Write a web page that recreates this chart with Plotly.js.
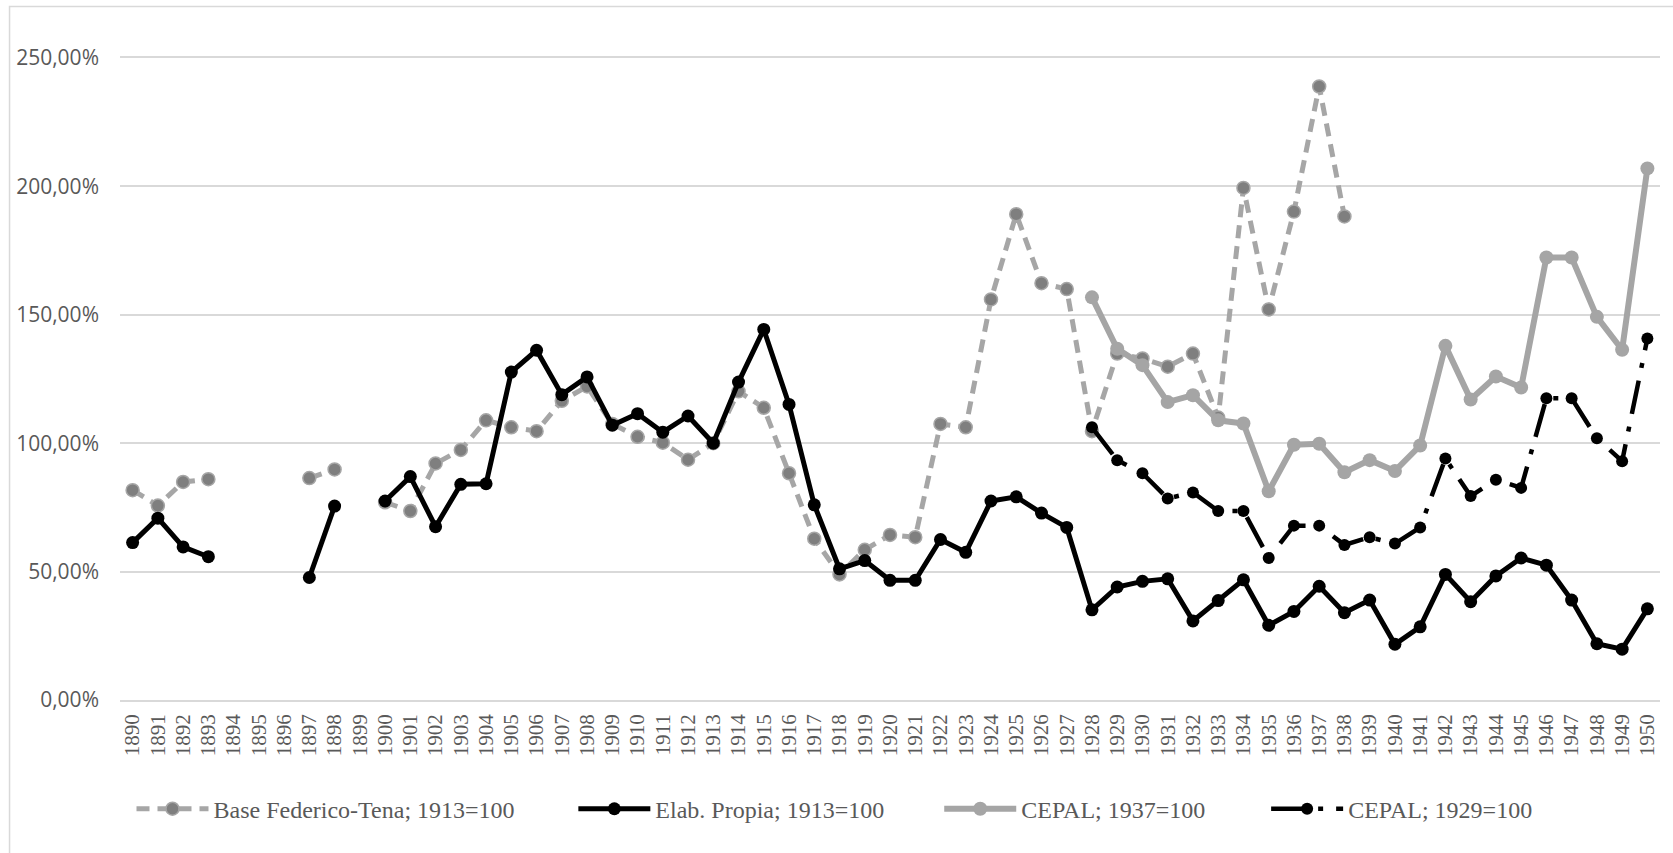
<!DOCTYPE html>
<html>
<head>
<meta charset="utf-8">
<script src="https://cdn.plot.ly/plotly-3.0.1.min.js"></script>
<style>
html,body{margin:0;padding:0;background:#fff;}
#chart{width:1673px;height:853px;}
</style>
</head>
<body>
<div id="chart"></div>
<script>
// ---- Data ----
var years = [];
for (var yr = 1890; yr <= 1950; yr++) years.push(yr);
var cepalYears = years.slice(38); // 1928..1950

var federicoTena = [81.7, 75.7, 84.9, 86.0, null, null, null, 86.4, 89.8, null,
  77.0, 73.6, 92.1, 97.4, 108.9, 106.2, 104.7, 116.5, 122.1, 107.5,
  102.5, 100.2, 93.6, 100.0, 120.2, 113.8, 88.3, 62.8, 48.9, 58.5,
  64.3, 63.4, 107.5, 106.2, 156.0, 189.2, 162.3, 160.0, 104.7, 134.9,
  133.0, 129.8, 134.9, 110.0, 199.4, 152.1, 190.2, 238.9, 188.3, null,
  null, null, null, null, null, null, null, null, null, null, null];

var elabPropia = [61.3, 70.8, 59.6, 55.8, null, null, null, 47.7, 75.5, null,
  77.5, 87.0, 67.5, 84.0, 84.2, 127.7, 136.2, 118.9, 125.8, 107.0,
  111.5, 104.3, 110.6, 100.0, 123.8, 144.3, 115.1, 76.0, 51.1, 54.3,
  46.6, 46.6, 62.5, 57.5, 77.5, 79.1, 72.8, 67.2, 35.1, 44.0,
  46.2, 47.2, 30.8, 38.7, 46.8, 29.1, 34.5, 44.3, 34.0, 38.9,
  21.7, 28.5, 48.9, 38.3, 48.3, 55.3, 52.5, 38.9, 21.9, 19.8, 35.5];

var cepal1937 = [156.8, 136.8, 130.4, 116.0, 118.7, 108.9, 107.7, 81.3, 99.4, 99.8,
  88.7, 93.4, 89.2, 99.1, 137.9, 117.0, 126.0, 121.7, 172.3, 172.3, 149.2, 136.4, 207.0];

var cepal1929 = [106.2, 93.4, 88.3, 78.5, 80.8, 73.6, 73.6, 55.3, 67.9, 67.9,
  60.4, 63.4, 60.9, 67.2, 94.0, 79.4, 85.8, 82.6, 117.5, 117.5, 101.9, 93.0, 140.8];

var seriesNames = ["Base Federico-Tena; 1913=100", "Elab. Propia; 1913=100",
  "CEPAL; 1937=100", "CEPAL; 1929=100"];

var yTickVals = [0, 50, 100, 150, 200, 250];
var yTickText = ["0,00%", "50,00%", "100,00%", "150,00%", "200,00%", "250,00%"];

// ---- Traces ----
var traces = [
  {
    x: years, y: federicoTena, name: seriesNames[0], type: "scatter", mode: "lines+markers",
    connectgaps: false, cliponaxis: false, legend: "legend",
    line: {color: "#a6a6a6", width: 5, dash: "13px,8px"},
    marker: {symbol: "circle", size: 13, color: "#7f7f7f", line: {color: "#a6a6a6", width: 1.5}}
  },
  {
    x: years, y: elabPropia, name: seriesNames[1], type: "scatter", mode: "lines+markers",
    connectgaps: false, cliponaxis: false, legend: "legend2",
    line: {color: "#000000", width: 5},
    marker: {symbol: "circle", size: 13, color: "#000000"}
  },
  {
    x: cepalYears, y: cepal1937, name: seriesNames[2], type: "scatter", mode: "lines+markers",
    connectgaps: false, cliponaxis: false, legend: "legend3",
    line: {color: "#a5a5a5", width: 6},
    marker: {symbol: "circle", size: 14, color: "#a5a5a5"}
  },
  {
    x: cepalYears, y: cepal1929, name: seriesNames[3], type: "scatter", mode: "lines+markers",
    connectgaps: false, cliponaxis: false, legend: "legend4",
    line: {color: "#000000", width: 4.5, dash: "34px,13px,5px,13px"},
    marker: {symbol: "circle", size: 12, color: "#000000"}
  }
];

var plotLeft = 119.5, plotWidth = 1540.5;
function px2paper(px) { return (px - plotLeft) / plotWidth; }

function makeLegend(pxLeft) {
  return {
    orientation: "h", x: px2paper(pxLeft), xanchor: "left", y: -0.17, yanchor: "middle",
    font: {family: "Liberation Serif", size: 24, color: "#595959"},
    itemwidth: 72, bgcolor: "rgba(0,0,0,0)", borderwidth: 0
  };
}

var layout = {
  width: 1673, height: 853,
  paper_bgcolor: "#ffffff", plot_bgcolor: "#ffffff",
  margin: {l: plotLeft, r: 13, t: 57.6, b: 153, pad: 0},
  showlegend: true,
  legend: makeLegend(131),
  legend2: makeLegend(573),
  legend3: makeLegend(939),
  legend4: makeLegend(1266),
  xaxis: {
    range: [1889.5, 1950.5], tickmode: "linear", tick0: 1890, dtick: 1,
    tickangle: -90, showgrid: false, zeroline: false,
    showline: true, linecolor: "#d9d9d9", linewidth: 1.5, mirror: true,
    ticks: "", ticklabelstandoff: 4,
    tickfont: {family: "Liberation Serif", size: 21, color: "#595959"}
  },
  yaxis: {
    range: [0, 250], tickmode: "array", tickvals: yTickVals, ticktext: yTickText,
    showgrid: true, gridcolor: "#d9d9d9", gridwidth: 1.5, zeroline: false, showline: false,
    ticks: "", ticklabelstandoff: 20,
    tickfont: {family: "Open Sans", size: 21, color: "#595959"}
  },
  shapes: [{
    type: "rect", xref: "paper", yref: "paper",
    x0: px2paper(9), x1: 1.05, y0: -0.5, y1: (700 - 6) / 642.4,
    line: {color: "#d9d9d9", width: 1.5}, fillcolor: "rgba(0,0,0,0)", layer: "below"
  }]
};

Plotly.newPlot("chart", traces, layout, {displayModeBar: false, responsive: false});
</script>
</body>
</html>
